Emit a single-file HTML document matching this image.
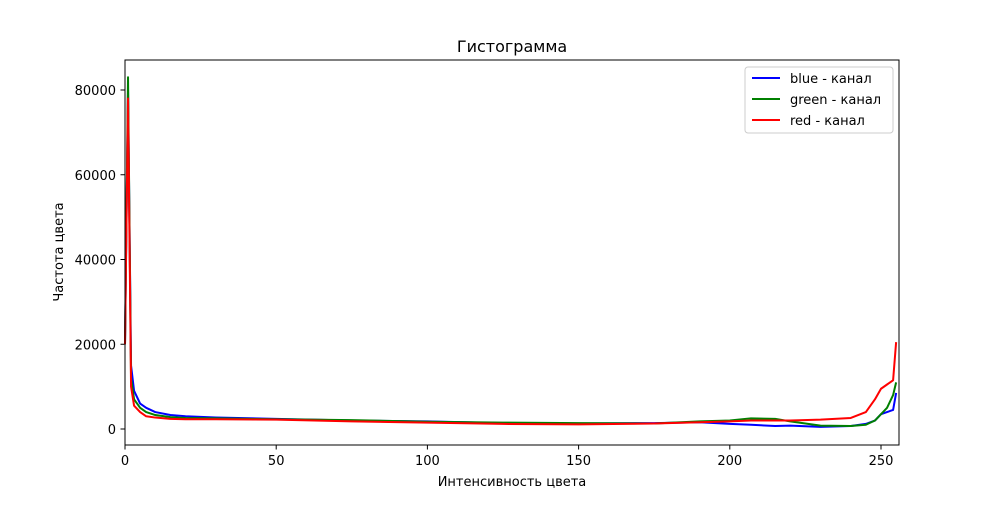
<!DOCTYPE html>
<html><head><meta charset="utf-8"><style>
body{margin:0;background:#fff;font-family:"Liberation Sans","DejaVu Sans",sans-serif;}
svg text{font-family:"DejaVu Sans","Liberation Sans",sans-serif;}
</style></head><body>
<svg id="chart" width="1000" height="500">
<rect width="1000" height="500" fill="#fff"/>
<text x="512" y="52" font-size="16" text-anchor="middle">Гистограмма</text>
<g id="plot"></g>
<rect x="125" y="60" width="774" height="385" fill="none" stroke="#000" stroke-width="1"/>
<text x="512" y="486" font-size="13" text-anchor="middle">Интенсивность цвета</text>
<text transform="translate(63,252) rotate(-90)" font-size="13" text-anchor="middle">Частота цвета</text>
<g>
<rect x="745" y="67" width="148" height="66" fill="#fff" stroke="#ccc" rx="3"/>
<g><line x1="752" y1="78" x2="780" y2="78" stroke="blue" stroke-width="2"/><text x="790" y="83" font-size="13">blue - канал</text></g>
<g><line x1="752" y1="99" x2="780" y2="99" stroke="green" stroke-width="2"/><text x="790" y="104" font-size="13">green - канал</text></g>
<g><line x1="752" y1="120" x2="780" y2="120" stroke="red" stroke-width="2"/><text x="790" y="125" font-size="13">red - канал</text></g>
</g>
</svg>
<script>
const bins=[0,1,2,3,5,7,10,15,20,30,50,75,100,125,150,175,190,200,207,215,220,230,240,245,248,250,252,254,255];
const blueVals=[20000,80000,15000,9000,6000,5000,4000,3300,3000,2700,2400,2000,1800,1400,1300,1400,1600,1200,1000,700,800,500,700,1200,2000,3500,4000,4500,8500];
const greenVals=[20000,83000,12000,7000,5000,4000,3300,2800,2600,2500,2300,2100,1700,1500,1400,1300,1800,2000,2500,2400,1800,800,700,1000,2000,3500,5000,8000,11000];
const redVals=[20000,78000,10000,5500,4000,3000,2700,2400,2300,2300,2200,1800,1500,1200,1100,1300,1600,1800,2000,2000,2000,2200,2600,4000,7000,9500,10500,11500,20500];
const xTicks=[0,50,100,150,200,250];
const yTicks=[0,20000,40000,60000,80000];
const X=v=>125+v*3.024;
const Y=v=>429-v*0.0042375;
const ns='http://www.w3.org/2000/svg';
const g=document.getElementById('plot');
function mk(t,a){const e=document.createElementNS(ns,t);for(const k in a)e.setAttribute(k,a[k]);g.appendChild(e);return e;}
xTicks.forEach(t=>{
  const l=mk('line',{x1:X(t),x2:X(t),y1:445,y2:449.5,stroke:'#000'});
  
  
  const tx=mk('text',{x:X(t),y:465,'font-size':13,'text-anchor':'middle'});tx.textContent=t;
  
  
});
yTicks.forEach(t=>{
  const l=mk('line',{x1:120.5,x2:125,y1:Y(t),y2:Y(t),stroke:'#000'});
  
  
  const tx=mk('text',{x:116,y:Y(t)+5,'font-size':13,'text-anchor':'end'});tx.textContent=t;
  
  
});
[['blue',blueVals],['green',greenVals],['red',redVals]].forEach(([c,vals])=>{
  const p=mk('polyline',{points:bins.map((b,i)=>X(b)+','+Y(vals[i])).join(' '),fill:'none',stroke:c,'stroke-width':2,'stroke-linejoin':'round'});
  
  
});
</script>
</body></html>
